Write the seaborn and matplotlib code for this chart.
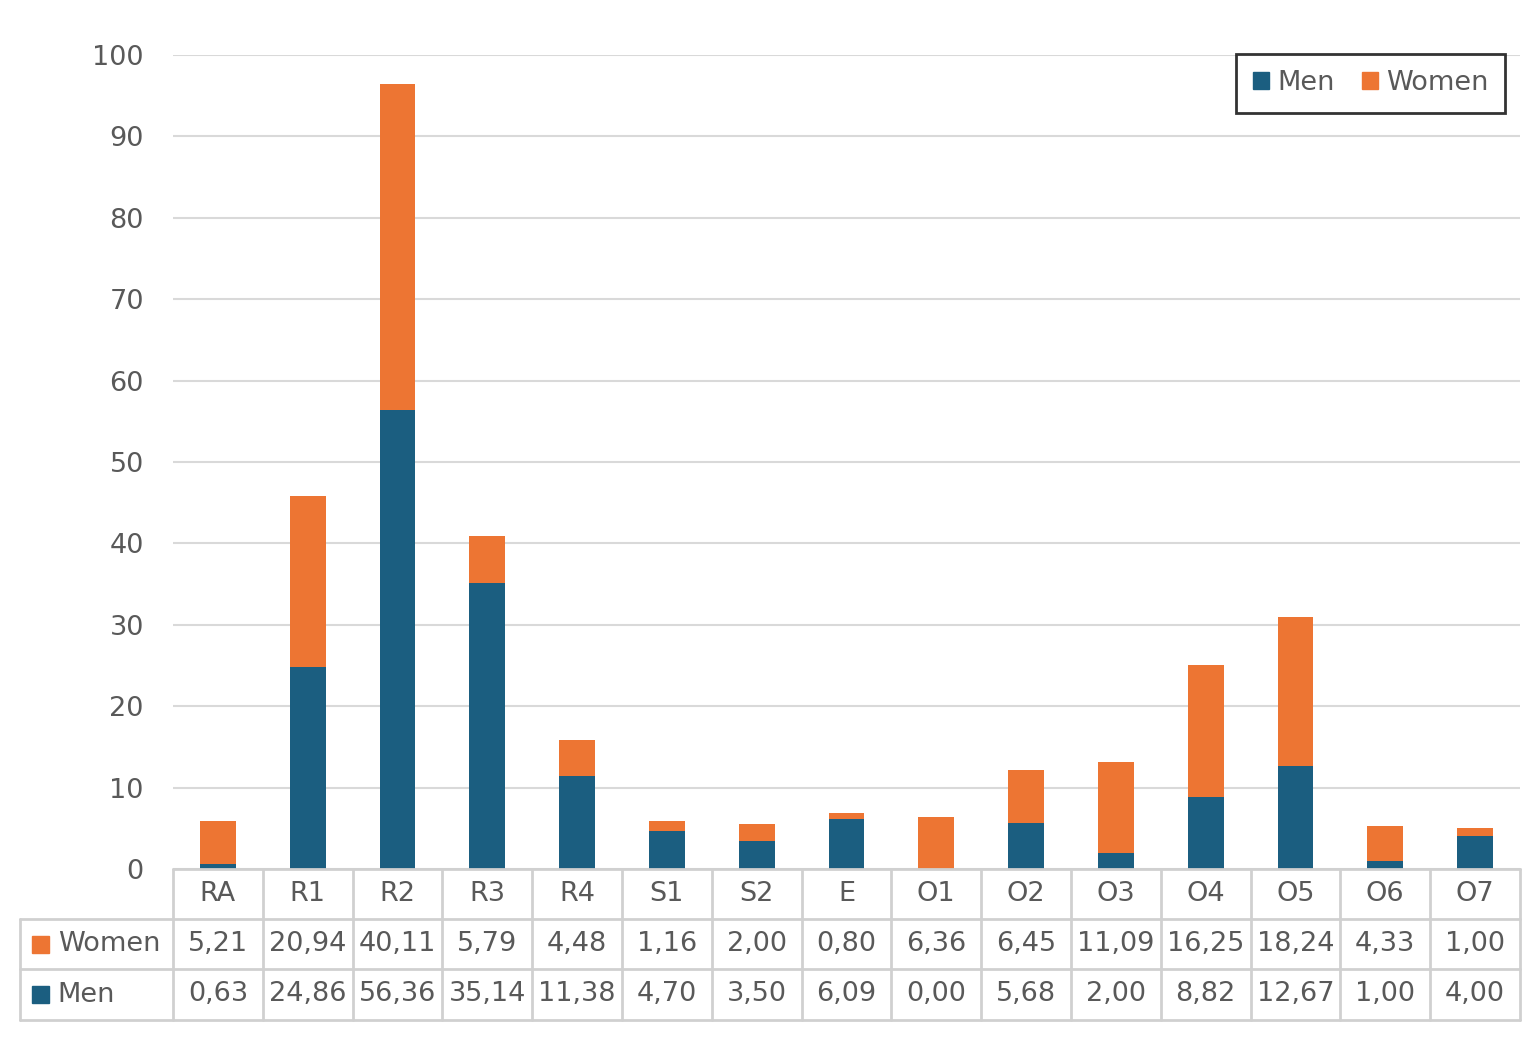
import matplotlib
matplotlib.use("Agg")
import matplotlib.pyplot as plt
import matplotlib.transforms as mtransforms
from matplotlib.patches import Rectangle
import seaborn as sns
import pandas as pd
import numpy as np

categories = ["RA", "R1", "R2", "R3", "R4", "S1", "S2", "E", "O1", "O2", "O3", "O4", "O5", "O6", "O7"]
women = [5.21, 20.94, 40.11, 5.79, 4.48, 1.16, 2.00, 0.80, 6.36, 6.45, 11.09, 16.25, 18.24, 4.33, 1.00]
men = [0.63, 24.86, 56.36, 35.14, 11.38, 4.70, 3.50, 6.09, 0.00, 5.68, 2.00, 8.82, 12.67, 1.00, 4.00]
yticks = [0, 10, 20, 30, 40, 50, 60, 70, 80, 90, 100]

MEN_C = "#1B5E80"
WOMEN_C = "#ED7533"
TXT = "#595959"
GRID = "#D9D9D9"
TBL = "#D0D0D0"
FS = 19.5

sns.set_theme(style="white")
plt.rcParams["font.family"] = ["DejaVu Sans"]

df = pd.DataFrame({"cat": categories, "men": men, "women": women})
df["total"] = df["men"] + df["women"]

fig = plt.figure(figsize=(15.32, 10.56), dpi=100)
ax = fig.add_axes([173/1532, 1-869/1056, (1520-173)/1532, (869-55)/1056])

sns.barplot(data=df, x="cat", y="total", color=WOMEN_C, saturation=1, width=0.4, ax=ax,
            order=categories, linewidth=0, edgecolor="none")
sns.barplot(data=df, x="cat", y="men", color=MEN_C, saturation=1, width=0.4, ax=ax,
            order=categories, linewidth=0, edgecolor="none")

ax.set_xlim(-0.5, len(categories) - 0.5)
ax.set_ylim(0, 100)
ax.set_yticks(yticks)
ax.set_yticklabels([str(t) for t in yticks], fontsize=FS, color=TXT)
ax.tick_params(axis="y", length=0, pad=21)
ax.set_xticks([])
ax.set_xlabel("")
ax.set_ylabel("")
for s in ax.spines.values():
    s.set_visible(False)
ax.yaxis.grid(True, color=GRID, linewidth=1.5)
ax.set_axisbelow(True)

# legend
h_men = Rectangle((0, 0), 1, 1, color=MEN_C)
h_women = Rectangle((0, 0), 1, 1, color=WOMEN_C)
leg = ax.legend([h_men, h_women], ["Men", "Women"], loc="upper right", ncol=2,
                bbox_to_anchor=(0.9885, 1.001), fontsize=FS, frameon=True, fancybox=False,
                handlelength=0.6, handleheight=0.6, handletextpad=0.3, columnspacing=1.0,
                borderpad=0.6, borderaxespad=0)
leg.get_frame().set_edgecolor("black")
leg.get_frame().set_linewidth(2)
for t in leg.get_texts():
    t.set_color(TXT)

# data table
trans = mtransforms.blended_transform_factory(ax.transData, ax.transAxes)
H = 869 - 55
y0 = 0.0
y1 = -50 / H
y2 = -100 / H
y3 = -151 / H
n = len(categories)
xl = (20 - 173) / ((1520 - 173) / n) - 0.5
xa = -0.5
xb = n - 0.5
lk = dict(color=TBL, linewidth=2, transform=trans, clip_on=False)
ax.plot([xa, xb], [y0, y0], **lk)
ax.plot([xl, xb], [y1, y1], **lk)
ax.plot([xl, xb], [y2, y2], **lk)
ax.plot([xl, xb], [y3, y3], **lk)
ax.plot([xl, xl], [y1, y3], **lk)
for i in range(n + 1):
    ax.plot([i - 0.5, i - 0.5], [y0, y3], **lk)

def fmt(v):
    return f"{v:.2f}".replace(".", ",")

for i, c in enumerate(categories):
    ax.text(i, (y0 + y1) / 2, c, ha="center", va="center", fontsize=FS, color=TXT, transform=trans, clip_on=False)
    ax.text(i, (y1 + y2) / 2, fmt(women[i]), ha="center", va="center", fontsize=FS, color=TXT, transform=trans, clip_on=False)
    ax.text(i, (y2 + y3) / 2, fmt(men[i]), ha="center", va="center", fontsize=FS, color=TXT, transform=trans, clip_on=False)

# row labels with colour keys
for (label, col, yc) in [("Women", WOMEN_C, (y1 + y2) / 2), ("Men", MEN_C, (y2 + y3) / 2)]:
    ax.text(xl + 0.42, yc, label, ha="left", va="center", fontsize=FS, color=TXT, transform=trans, clip_on=False)
    sq_w = 17 / ((1520 - 173) / n)
    sq_h = 17 / H
    ax.add_patch(Rectangle((xl + 0.13, yc - sq_h / 2), sq_w, sq_h, color=col, transform=trans, clip_on=False))

fig.savefig("out.png", dpi=100)
